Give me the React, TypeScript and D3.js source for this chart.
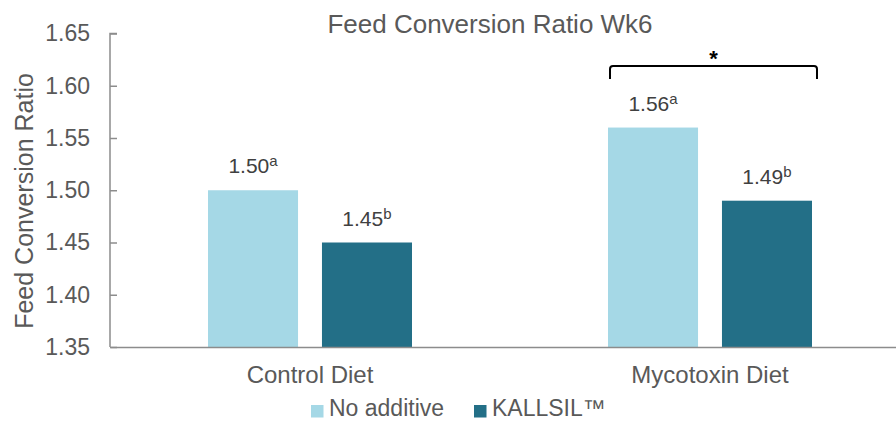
import React, { useEffect, useRef } from "react";
import * as d3 from "d3";

const categories = ["Control Diet", "Mycotoxin Diet"];
const seriesNames = ["No additive", "KALLSIL™"];
const noAdditive = [1.5, 1.56];
const kallsil = [1.45, 1.49];
const noAdditiveLetters = ["a", "a"];
const kallsilLetters = ["b", "b"];
const yTicks = [1.35, 1.4, 1.45, 1.5, 1.55, 1.6, 1.65];
const colors = ["#A5D8E6", "#236F87"];

const App: React.FC = () => {
  const svgRef = useRef<SVGSVGElement | null>(null);

  useEffect(() => {
    const width = 896;
    const height = 421;
    const margin = { top: 33.5, right: -14, bottom: 74, left: 110 };
    const font = "Arial, 'Liberation Sans', sans-serif";
    const textColor = "#595959";
    const axisColor = "#8C8C8C";

    const svg = d3.select(svgRef.current).attr("width", width).attr("height", height);
    svg.selectAll("*").remove();

    // scales
    const x0 = d3
      .scaleBand<string>()
      .domain(categories)
      .range([margin.left, width - margin.right])
      .padding(0);

    const x1 = d3
      .scaleBand<string>()
      .domain(seriesNames)
      .range([0, x0.bandwidth()])
      .paddingInner(0.21)
      .paddingOuter(0.86);

    const y = d3
      .scaleLinear()
      .domain([1.35, 1.65])
      .range([height - margin.bottom, margin.top]);

    const seriesValues = [noAdditive, kallsil];
    const seriesLetters = [noAdditiveLetters, kallsilLetters];

    // title
    svg
      .append("text")
      .attr("x", 490)
      .attr("y", 33)
      .attr("text-anchor", "middle")
      .attr("font-family", font)
      .attr("font-size", 26)
      .attr("fill", textColor)
      .text("Feed Conversion Ratio Wk6");

    // y axis title
    svg
      .append("text")
      .attr("transform", `translate(33, 201) rotate(-90)`)
      .attr("text-anchor", "middle")
      .attr("font-family", font)
      .attr("font-size", 25)
      .attr("fill", textColor)
      .text("Feed Conversion Ratio");

    // bars
    seriesNames.forEach((name, si) => {
      const g = svg.append("g");
      g.selectAll("rect")
        .data(categories)
        .join("rect")
        .attr("x", (c) => x0(c)! + x1(name)!)
        .attr("y", (c, i) => y(seriesValues[si][i]))
        .attr("width", x1.bandwidth())
        .attr("height", (c, i) => y(1.35) - y(seriesValues[si][i]))
        .attr("fill", colors[si]);

      // value labels with superscript letters
      const labels = g
        .selectAll("text")
        .data(categories)
        .join("text")
        .attr("x", (c) => x0(c)! + x1(name)! + x1.bandwidth() / 2)
        .attr("y", (c, i) => y(seriesValues[si][i]) - 17)
        .attr("text-anchor", "middle")
        .attr("font-family", font)
        .attr("font-size", 21)
        .attr("fill", "#404040");
      labels.append("tspan").text((c, i) => seriesValues[si][i].toFixed(2));
      labels
        .append("tspan")
        .attr("dy", -7)
        .attr("font-size", 15)
        .text((c, i) => seriesLetters[si][i]);
    });

    // y axis
    const yAxis = d3
      .axisRight(y)
      .tickValues(yTicks)
      .tickSize(7)
      .tickFormat((d) => d3.format(".2f")(d as number));
    const yg = svg.append("g").attr("transform", `translate(${margin.left},0)`).call(yAxis);
    yg.select(".domain").attr("stroke", axisColor).attr("stroke-width", 1.5).attr("d", `M7,${y(1.65)}H0V${y(1.35)}`);
    yg.selectAll(".tick line").attr("stroke", axisColor).attr("stroke-width", 1.5);
    yg.selectAll(".tick text")
      .attr("x", -20)
      .attr("text-anchor", "end")
      .attr("font-family", font)
      .attr("font-size", 23)
      .attr("fill", textColor);

    // x axis
    const xAxis = d3.axisBottom(x0).tickSize(0);
    const xg = svg.append("g").attr("transform", `translate(0,${y(1.35)})`).call(xAxis);
    xg.select(".domain").attr("stroke", axisColor).attr("stroke-width", 1.5);
    xg.selectAll(".tick text")
      .attr("y", 36)
      .attr("dy", 0)
      .attr("font-family", font)
      .attr("font-size", 24)
      .attr("fill", textColor);

    // significance bracket over mycotoxin diet
    const bx0 = x0(categories[1])! + x1(seriesNames[0])! + 2;
    const bx1 = x0(categories[1])! + x1(seriesNames[1])! + x1.bandwidth() + 5;
    const by = 66;
    const r = 3;
    svg
      .append("path")
      .attr(
        "d",
        `M${bx0},${by + 13}V${by + r}Q${bx0},${by} ${bx0 + r},${by}H${bx1 - r}Q${bx1},${by} ${bx1},${by + r}V${by + 13}`
      )
      .attr("fill", "none")
      .attr("stroke", "#000")
      .attr("stroke-width", 2);
    svg
      .append("text")
      .attr("x", (bx0 + bx1) / 2)
      .attr("y", 66)
      .attr("text-anchor", "middle")
      .attr("font-family", font)
      .attr("font-weight", "bold")
      .attr("font-size", 22)
      .attr("fill", "#000")
      .text("*");

    // legend
    const legendItems = [
      { name: seriesNames[0], sx: 311, tx: 329 },
      { name: seriesNames[1], sx: 474, tx: 492 },
    ];
    const lg = svg.append("g");
    legendItems.forEach((it, i) => {
      lg.append("rect")
        .attr("x", it.sx)
        .attr("y", 405)
        .attr("width", 12.5)
        .attr("height", 12.5)
        .attr("fill", colors[i]);
      lg.append("text")
        .attr("x", it.tx)
        .attr("y", 416)
        .attr("font-family", font)
        .attr("font-size", 23)
        .attr("fill", textColor)
        .text(it.name);
    });
  }, []);

  return (
    <svg
      ref={svgRef}
      style={{ position: "absolute", left: 0, top: 0, display: "block" }}
    ></svg>
  );
};

export default App;
